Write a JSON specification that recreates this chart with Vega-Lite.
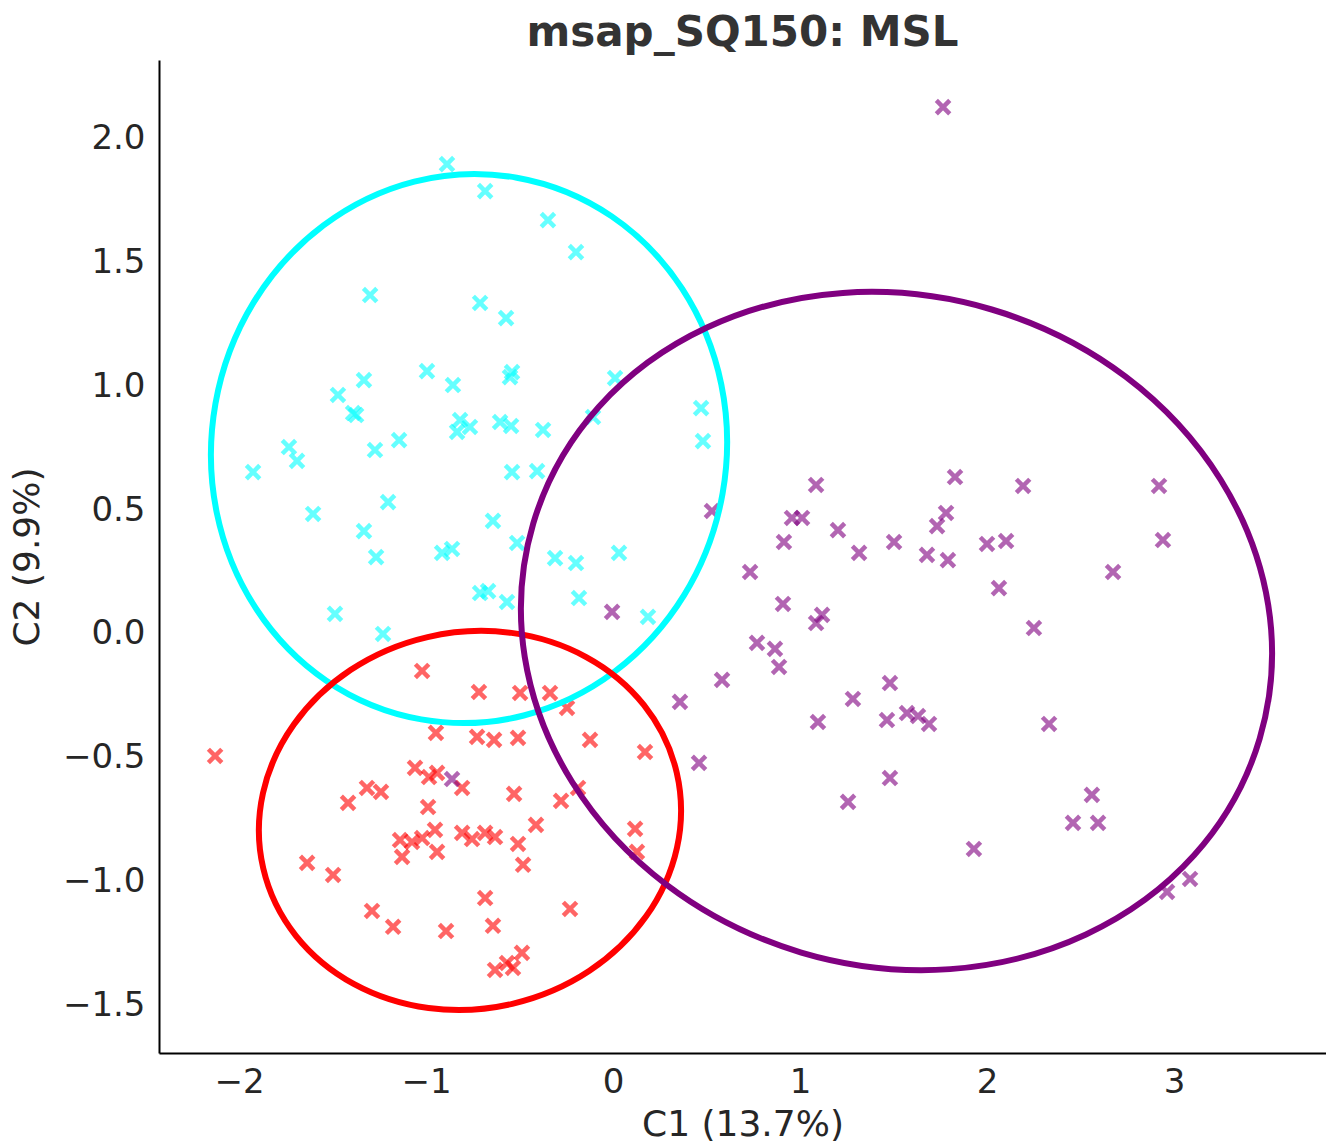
{
  "$schema": "https://vega.github.io/schema/vega-lite/v6.json",
  "width": 1167,
  "height": 993,
  "autosize": {"type": "none"},
  "padding": {"left": 159, "top": 60, "right": 0, "bottom": 92},
  "title": {"text": "msap_SQ150: MSL", "font": "DejaVu Sans", "fontSize": 42, "fontWeight": "bold", "color": "#333333", "anchor": "middle", "offset": 5},
  "datasets": {
    "points": [
      {"g":"G1","c1":-0.888,"c2":1.895},{"g":"G1","c1":-0.684,"c2":1.786},{"g":"G1","c1":-0.348,"c2":1.669},{"g":"G1","c1":-0.198,"c2":1.540},{"g":"G1","c1":-1.299,"c2":1.367},
      {"g":"G1","c1":-0.711,"c2":1.335},{"g":"G1","c1":-0.572,"c2":1.274},{"g":"G1","c1":-0.540,"c2":1.056},{"g":"G1","c1":-0.551,"c2":1.036},{"g":"G1","c1":-0.995,"c2":1.060},
      {"g":"G1","c1":-1.332,"c2":1.024},{"g":"G1","c1":-0.856,"c2":1.004},{"g":"G1","c1":-1.471,"c2":0.964},{"g":"G1","c1":0.011,"c2":1.032},{"g":"G1","c1":-1.390,"c2":0.891},
      {"g":"G1","c1":-1.374,"c2":0.883},{"g":"G1","c1":-1.144,"c2":0.782},{"g":"G1","c1":-1.273,"c2":0.742},{"g":"G1","c1":-1.733,"c2":0.754},{"g":"G1","c1":-1.690,"c2":0.698},
      {"g":"G1","c1":-1.925,"c2":0.653},{"g":"G1","c1":-1.203,"c2":0.532},{"g":"G1","c1":-1.604,"c2":0.484},{"g":"G1","c1":-1.332,"c2":0.415},{"g":"G1","c1":-1.267,"c2":0.310},
      {"g":"G1","c1":-1.487,"c2":0.081},{"g":"G1","c1":-1.230,"c2":0.000},{"g":"G1","c1":-0.818,"c2":0.863},{"g":"G1","c1":-0.834,"c2":0.815},{"g":"G1","c1":-0.765,"c2":0.835},
      {"g":"G1","c1":-0.604,"c2":0.855},{"g":"G1","c1":-0.545,"c2":0.839},{"g":"G1","c1":-0.374,"c2":0.823},{"g":"G1","c1":-0.107,"c2":0.875},{"g":"G1","c1":0.471,"c2":0.911},
      {"g":"G1","c1":0.481,"c2":0.778},{"g":"G1","c1":-0.540,"c2":0.653},{"g":"G1","c1":-0.406,"c2":0.657},{"g":"G1","c1":-0.642,"c2":0.456},{"g":"G1","c1":-0.513,"c2":0.367},
      {"g":"G1","c1":-0.914,"c2":0.327},{"g":"G1","c1":-0.861,"c2":0.343},{"g":"G1","c1":-0.310,"c2":0.306},{"g":"G1","c1":-0.198,"c2":0.286},{"g":"G1","c1":0.032,"c2":0.327},
      {"g":"G1","c1":-0.711,"c2":0.165},{"g":"G1","c1":-0.668,"c2":0.173},{"g":"G1","c1":-0.567,"c2":0.129},{"g":"G1","c1":-0.182,"c2":0.145},{"g":"G1","c1":0.187,"c2":0.069},
      {"g":"G2","c1":-1.021,"c2":-0.149},{"g":"G2","c1":-0.717,"c2":-0.234},{"g":"G2","c1":-0.497,"c2":-0.238},{"g":"G2","c1":-0.337,"c2":-0.238},{"g":"G2","c1":-0.246,"c2":-0.298},
      {"g":"G2","c1":-0.947,"c2":-0.399},{"g":"G2","c1":-0.727,"c2":-0.415},{"g":"G2","c1":-0.636,"c2":-0.427},{"g":"G2","c1":-0.508,"c2":-0.419},{"g":"G2","c1":-0.123,"c2":-0.427},
      {"g":"G2","c1":0.171,"c2":-0.476},{"g":"G2","c1":-2.128,"c2":-0.492},{"g":"G2","c1":-1.059,"c2":-0.540},{"g":"G2","c1":-0.984,"c2":-0.577},{"g":"G2","c1":-0.941,"c2":-0.560},
      {"g":"G2","c1":-0.807,"c2":-0.621},{"g":"G2","c1":-1.316,"c2":-0.621},{"g":"G2","c1":-1.241,"c2":-0.637},{"g":"G2","c1":-1.417,"c2":-0.681},{"g":"G2","c1":-0.989,"c2":-0.698},
      {"g":"G2","c1":-0.529,"c2":-0.645},{"g":"G2","c1":-0.278,"c2":-0.673},{"g":"G2","c1":-0.187,"c2":-0.621},{"g":"G2","c1":-0.412,"c2":-0.770},{"g":"G2","c1":-1.139,"c2":-0.831},
      {"g":"G2","c1":-1.075,"c2":-0.839},{"g":"G2","c1":-1.021,"c2":-0.823},{"g":"G2","c1":-0.952,"c2":-0.790},{"g":"G2","c1":-0.941,"c2":-0.879},{"g":"G2","c1":-1.128,"c2":-0.899},
      {"g":"G2","c1":-0.807,"c2":-0.802},{"g":"G2","c1":-0.754,"c2":-0.827},{"g":"G2","c1":-0.684,"c2":-0.802},{"g":"G2","c1":-0.631,"c2":-0.819},{"g":"G2","c1":-0.508,"c2":-0.847},
      {"g":"G2","c1":-0.481,"c2":-0.931},{"g":"G2","c1":0.118,"c2":-0.786},{"g":"G2","c1":0.128,"c2":-0.879},{"g":"G2","c1":-1.636,"c2":-0.923},{"g":"G2","c1":-1.497,"c2":-0.972},
      {"g":"G2","c1":-1.289,"c2":-1.117},{"g":"G2","c1":-1.176,"c2":-1.181},{"g":"G2","c1":-0.893,"c2":-1.198},{"g":"G2","c1":-0.684,"c2":-1.065},{"g":"G2","c1":-0.642,"c2":-1.177},
      {"g":"G2","c1":-0.230,"c2":-1.109},{"g":"G2","c1":-0.487,"c2":-1.286},{"g":"G2","c1":-0.631,"c2":-1.355},{"g":"G2","c1":-0.535,"c2":-1.347},{"g":"G2","c1":-0.567,"c2":-1.327},
      {"g":"G3","c1":1.765,"c2":2.125},{"g":"G3","c1":1.086,"c2":0.601},{"g":"G3","c1":0.957,"c2":0.468},{"g":"G3","c1":1.011,"c2":0.468},{"g":"G3","c1":1.203,"c2":0.419},
      {"g":"G3","c1":0.914,"c2":0.371},{"g":"G3","c1":1.316,"c2":0.327},{"g":"G3","c1":1.503,"c2":0.371},{"g":"G3","c1":0.529,"c2":0.496},{"g":"G3","c1":0.733,"c2":0.250},
      {"g":"G3","c1":0.909,"c2":0.121},{"g":"G3","c1":1.118,"c2":0.077},{"g":"G3","c1":1.086,"c2":0.044},{"g":"G3","c1":-0.005,"c2":0.089},{"g":"G3","c1":0.770,"c2":-0.036},
      {"g":"G3","c1":0.866,"c2":-0.060},{"g":"G3","c1":0.888,"c2":-0.133},{"g":"G3","c1":0.583,"c2":-0.185},{"g":"G3","c1":0.358,"c2":-0.274},{"g":"G3","c1":1.481,"c2":-0.198},
      {"g":"G3","c1":1.283,"c2":-0.262},{"g":"G3","c1":1.096,"c2":-0.355},{"g":"G3","c1":1.465,"c2":-0.347},{"g":"G3","c1":1.572,"c2":-0.319},{"g":"G3","c1":1.631,"c2":-0.331},
      {"g":"G3","c1":1.690,"c2":-0.363},{"g":"G3","c1":0.460,"c2":-0.520},{"g":"G3","c1":1.481,"c2":-0.581},{"g":"G3","c1":1.829,"c2":0.633},{"g":"G3","c1":2.193,"c2":0.597},
      {"g":"G3","c1":2.920,"c2":0.597},{"g":"G3","c1":1.781,"c2":0.488},{"g":"G3","c1":1.733,"c2":0.435},{"g":"G3","c1":1.679,"c2":0.319},{"g":"G3","c1":1.791,"c2":0.298},
      {"g":"G3","c1":2.000,"c2":0.363},{"g":"G3","c1":2.102,"c2":0.375},{"g":"G3","c1":2.941,"c2":0.379},{"g":"G3","c1":2.674,"c2":0.250},{"g":"G3","c1":2.064,"c2":0.185},
      {"g":"G3","c1":2.251,"c2":0.024},{"g":"G3","c1":2.332,"c2":-0.363},{"g":"G3","c1":1.257,"c2":-0.677},{"g":"G3","c1":1.930,"c2":-0.867},{"g":"G3","c1":2.561,"c2":-0.649},
      {"g":"G3","c1":2.460,"c2":-0.762},{"g":"G3","c1":2.594,"c2":-0.762},{"g":"G3","c1":3.086,"c2":-0.988},{"g":"G3","c1":2.963,"c2":-1.040},{"g":"G3","c1":-0.861,"c2":-0.585}
    ],
    "ellipses": [
      {"g":"G1","c1":-0.770,"c2":0.748},
      {"g":"G2","c1":-0.765,"c2":-0.752},
      {"g":"G3","c1":1.516,"c2":0.012}
    ]
  },
  "encoding": {
    "x": {"field": "c1", "type": "quantitative", "scale": {"domain": [-2.428, 3.813], "nice": false, "zero": false}, "axis": {"values": [-2, -1, 0, 1, 2, 3], "format": "d", "title": "C1 (13.7%)"}},
    "y": {"field": "c2", "type": "quantitative", "scale": {"domain": [-1.69, 2.315], "nice": false, "zero": false}, "axis": {"values": [-1.5, -1, -0.5, 0, 0.5, 1, 1.5, 2], "format": ".1f", "title": "C2 (9.9%)"}},
    "color": {"field": "g", "type": "nominal", "scale": {"domain": ["G1", "G2", "G3"], "range": ["#00ffff", "#ff0000", "#800080"]}, "legend": null}
  },
  "layer": [
    {
      "data": {"name": "points"},
      "mark": {"type": "point", "shape": "M-1,-1L1,1M-1,1L1,-1", "filled": false, "size": 180, "strokeWidth": 4.5, "opacity": 0.6}
    },
    {
      "data": {"name": "ellipses"},
      "transform": [{"filter": "datum.g === 'G1'"}],
      "mark": {"type": "point", "shape": "M0.9364,0C0.9364,0.5523 0.5172,1 0,1C-0.5172,1 -0.9364,0.5523 -0.9364,0C-0.9364,-0.5523 -0.5172,-1 0,-1C0.5172,-1 0.9364,-0.5523 0.9364,0Z", "filled": false, "size": 302500, "angle": 10, "strokeWidth": 6, "opacity": 1}
    },
    {
      "data": {"name": "ellipses"},
      "transform": [{"filter": "datum.g === 'G2'"}],
      "mark": {"type": "point", "shape": "M1,0C1,0.4898 0.5523,0.8869 0,0.8869C-0.5523,0.8869 -1,0.4898 -1,0C-1,-0.4898 -0.5523,-0.8869 0,-0.8869C0.5523,-0.8869 1,-0.4898 1,0Z", "filled": false, "size": 180121, "angle": -13, "strokeWidth": 6, "opacity": 1}
    },
    {
      "data": {"name": "ellipses"},
      "transform": [{"filter": "datum.g === 'G3'"}],
      "mark": {"type": "point", "shape": "M1,0C1,0.4889 0.5523,0.8852 0,0.8852C-0.5523,0.8852 -1,0.4889 -1,0C-1,-0.4889 -0.5523,-0.8852 0,-0.8852C0.5523,-0.8852 1,-0.4889 1,0Z", "filled": false, "size": 573958, "angle": 16.5, "strokeWidth": 6, "opacity": 1}
    }
  ],
  "config": {
    "view": {"stroke": null},
    "axis": {"grid": false, "domainColor": "#000000", "domainWidth": 2, "ticks": false, "labelFont": "DejaVu Sans", "labelFontSize": 34, "labelColor": "#262626", "labelFlush": false, "labelOverlap": false, "titleFont": "DejaVu Sans", "titleFontSize": 36, "titleFontWeight": "normal", "titleColor": "#262626"},
    "axisX": {"labelPadding": 12, "titlePadding": 8},
    "axisY": {"labelPadding": 14, "titlePadding": 16}
  }
}
